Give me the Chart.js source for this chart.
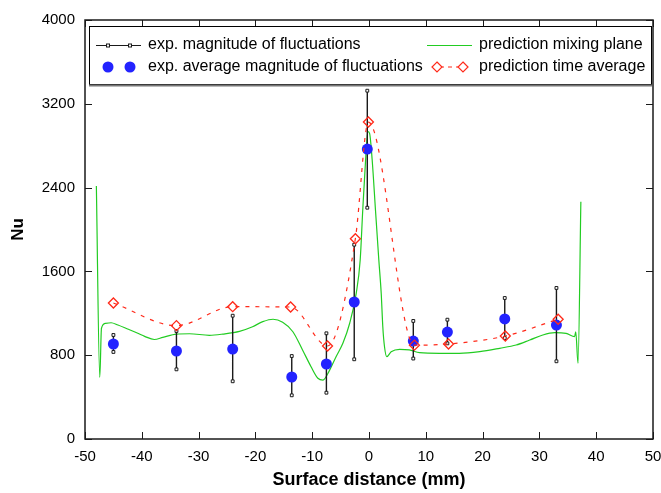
<!DOCTYPE html>
<html>
<head>
<meta charset="utf-8">
<script src="https://cdn.jsdelivr.net/npm/chart.js@4"></script>
<style>
  html, body { margin: 0; padding: 0; background: #fff; }
  canvas { display: block; }
</style>
</head>
<body>
<canvas id="nuChart" width="661" height="493"></canvas>
<script>
// ── Datos ─────────────────────────────────────────────────────
const xTickVals = [-50, -40, -30, -20, -10, 0, 10, 20, 30, 40, 50];
const yTickVals = [0, 800, 1600, 2400, 3200, 4000];

// exp. magnitude of fluctuations (barras) + promedio (puntos azules)
const expX    = [-45, -33.9, -24, -13.6, -7.5, -2.6, -0.3, 7.8, 13.8, 23.9, 33.0];
const expAvg  = [907, 840, 859, 592, 716, 1308, 2768, 935, 1021, 1146, 1088];
const expHigh = [993, 1031, 1177, 792, 1009, 1855, 3325, 1127, 1139, 1346, 1442];
const expLow  = [831, 665, 551, 417, 442, 761, 2208, 768, 913, 964, 742];

// prediction time average (rombos rojos)
const predX   = [-45, -33.9, -24, -13.8, -7.3, -2.4, -0.1, 8.0, 14.0, 24.0, 33.3];
const predAvg = [1298, 1082, 1263, 1260, 888, 1912, 3026, 896, 907, 983, 1143];

// prediction mixing plane (línea verde)
const mixX = [-48.0, -47.4, -47.1, -46.4, -45.4, -44.2, -42.5, -40.7, -39.5, -37.8,
  -36.3, -33.9, -31.6, -28.1, -25.7, -22.8, -20.5, -18.7, -16.9, -15.2,
  -13.4, -11.7, -10.2, -9.0, -8.1, -7.0, -5.8, -4.6, -3.4, -2.25,
  -1.55, -1.1, -0.6, -0.2, 0.1, 0.56, 1.14, 1.73, 2.15, 2.43,
  2.73, 3.13, 3.9, 5.4, 7.1, 8.9, 12.4, 15.9, 19.5, 23.0,
  25.9, 28.3, 30.6, 32.7, 34.7, 36.2, 36.4, 36.8, 37.3];
const mixY = [2415, 589, 1057, 1104, 1110, 1088, 1050, 1009, 980, 950,
  970, 1002, 1005, 990, 1002, 1028, 1072, 1120, 1143, 1114,
  1024, 850, 690, 580, 563, 650, 786, 914, 1105, 1391,
  1709, 2186, 2663, 2934, 2918, 2663, 2186, 1709, 1391, 1072,
  881, 786, 833, 856, 850, 824, 818, 818, 834, 866,
  897, 945, 993, 1015, 1009, 977, 1024, 723, 2265];

// ── Estilos ───────────────────────────────────────────────────
const FONT = '"Liberation Sans", Arial, sans-serif';
const GREEN = '#22cc22';
const BLUE  = '#2323ff';
const RED   = '#ff2a1a';
const DARK  = '#1a1a1a';

// barras de error: pares (bajo, alto) separados por null
const barPts = [];
expX.forEach((x, i) => {
  barPts.push({ x, y: expLow[i] }, { x, y: expHigh[i] }, { x, y: null });
});

// ── Marco, marcas interiores y leyenda ────────────────────────
const framePlugin = {
  id: 'frame',
  afterDraw(chart) {
    const { ctx, chartArea: a, scales } = chart;
    const T = 7;
    ctx.save();
    ctx.strokeStyle = DARK;
    ctx.lineWidth = 1.5;
    ctx.strokeRect(a.left, a.top, a.right - a.left, a.bottom - a.top);
    ctx.lineWidth = 1;
    ctx.beginPath();
    xTickVals.forEach(v => {
      const px = Math.round(scales.x.getPixelForValue(v)) + 0.5;
      ctx.moveTo(px, a.bottom); ctx.lineTo(px, a.bottom - T);
      ctx.moveTo(px, a.top);    ctx.lineTo(px, a.top + T);
    });
    yTickVals.forEach(v => {
      const py = Math.round(scales.y.getPixelForValue(v)) + 0.5;
      ctx.moveTo(a.left, py);  ctx.lineTo(a.left + T, py);
      ctx.moveTo(a.right, py); ctx.lineTo(a.right - T, py);
    });
    ctx.stroke();

    // leyenda
    const bx = 89, by = 26, bw = 562, bh = 58;
    ctx.fillStyle = '#fff';
    ctx.fillRect(bx, by, bw, bh);
    ctx.strokeStyle = '#000';
    ctx.lineWidth = 1;
    ctx.strokeRect(bx + 0.5, by + 0.5, bw, bh);
    ctx.strokeStyle = '#777';
    ctx.lineWidth = 2;
    ctx.beginPath();
    ctx.moveTo(bx, by + bh + 1.5); ctx.lineTo(bx + bw + 1, by + bh + 1.5);
    ctx.stroke();

    const r1 = 45, r2 = 67;
    // fila 1 izq: línea negra con cuadritos
    ctx.strokeStyle = DARK; ctx.lineWidth = 1;
    ctx.beginPath(); ctx.moveTo(96, r1 + 0.5); ctx.lineTo(141, r1 + 0.5); ctx.stroke();
    [108, 130].forEach(x => {
      ctx.fillStyle = '#fff';
      ctx.fillRect(x - 1.5, r1 - 1, 3, 3);
      ctx.strokeRect(x - 1.5, r1 - 1, 3, 3);
    });
    // fila 1 der: línea verde
    ctx.strokeStyle = GREEN; ctx.lineWidth = 1.2;
    ctx.beginPath(); ctx.moveTo(427, r1 + 0.5); ctx.lineTo(472, r1 + 0.5); ctx.stroke();
    // fila 2 izq: puntos azules
    ctx.fillStyle = BLUE;
    [108, 130].forEach(x => { ctx.beginPath(); ctx.arc(x, r2, 5.5, 0, Math.PI * 2); ctx.fill(); });
    // fila 2 der: rombos rojos con guiones
    ctx.strokeStyle = RED; ctx.lineWidth = 1.2;
    ctx.setLineDash([4, 4]);
    ctx.beginPath(); ctx.moveTo(432, r2); ctx.lineTo(462, r2); ctx.stroke();
    ctx.setLineDash([]);
    [437, 463].forEach(x => {
      ctx.fillStyle = '#fff';
      ctx.beginPath();
      ctx.moveTo(x, r2 - 5); ctx.lineTo(x + 5, r2); ctx.lineTo(x, r2 + 5); ctx.lineTo(x - 5, r2);
      ctx.closePath(); ctx.fill(); ctx.stroke();
    });

    ctx.fillStyle = '#000';
    ctx.font = '16px ' + FONT;
    ctx.textBaseline = 'middle';
    ctx.textAlign = 'left';
    ctx.fillText('exp. magnitude of fluctuations', 148, r1);
    ctx.fillText('exp. average magnitude of fluctuations', 148, r2);
    ctx.fillText('prediction mixing plane', 479, r1);
    ctx.fillText('prediction time average', 479, r2);
    ctx.restore();
  },
};

const ctx = document.getElementById('nuChart').getContext('2d');
new Chart(ctx, {
  type: 'line',
  data: {
    datasets: [
      {
        label: 'prediction time average',
        data: predX.map((x, i) => ({ x, y: predAvg[i] })),
        borderColor: RED,
        borderWidth: 1.2,
        borderDash: [4, 6],
        cubicInterpolationMode: 'monotone',
        pointStyle: 'rectRot',
        pointRadius: 5,
        pointBorderWidth: 1.3,
        pointBorderColor: RED,
        pointBackgroundColor: 'rgba(255,255,255,0)',
        order: 1,
      },
      {
        label: 'exp. average magnitude of fluctuations',
        data: expX.map((x, i) => ({ x, y: expAvg[i] })),
        showLine: false,
        pointStyle: 'circle',
        pointRadius: 5.5,
        pointBorderWidth: 0,
        pointBackgroundColor: BLUE,
        order: 2,
      },
      {
        label: 'exp. magnitude of fluctuations',
        data: barPts,
        borderColor: DARK,
        borderWidth: 1.4,
        spanGaps: false,
        tension: 0,
        pointStyle: 'rect',
        pointRadius: 2,
        pointBorderWidth: 1,
        pointBorderColor: DARK,
        pointBackgroundColor: '#fff',
        order: 3,
      },
      {
        label: 'prediction mixing plane',
        data: mixX.map((x, i) => ({ x, y: mixY[i] })),
        borderColor: GREEN,
        borderWidth: 1.2,
        cubicInterpolationMode: 'monotone',
        pointRadius: 0,
        order: 4,
      },
    ],
  },
  options: {
    responsive: false,
    animation: false,
    devicePixelRatio: 1,
    layout: { padding: { top: 20, right: 8, left: 0, bottom: 0 } },
    plugins: { legend: { display: false }, tooltip: { enabled: false } },
    scales: {
      x: {
        type: 'linear',
        min: -50, max: 50,
        afterBuildTicks: s => { s.ticks = xTickVals.map(v => ({ value: v })); },
        afterFit: s => { s.height = 54; s.paddingLeft = 0; s.paddingRight = 0; },
        grid: { display: false, drawTicks: false },
        border: { display: false },
        ticks: { color: '#000', padding: 9, maxRotation: 0, font: { size: 15, family: FONT },
                 callback: v => String(v) },
        title: {
          display: true, text: 'Surface distance (mm)', color: '#000',
          font: { size: 18, weight: 'bold', family: FONT }, padding: { top: 0, bottom: 2 },
        },
      },
      y: {
        type: 'linear',
        min: 0, max: 4000,
        afterBuildTicks: s => { s.ticks = yTickVals.map(v => ({ value: v })); },
        afterFit: s => { s.width = 85; s.paddingTop = 0; s.paddingBottom = 0; },
        grid: { display: false, drawTicks: false },
        border: { display: false },
        ticks: { color: '#000', padding: 10, font: { size: 15, family: FONT },
                 callback: v => String(v) },
        title: {
          display: true, text: 'Nu', color: '#000',
          font: { size: 17, weight: 'bold', family: FONT }, padding: { top: 8, bottom: 0 },
        },
      },
    },
  },
  plugins: [framePlugin],
});
</script>
</body>
</html>
